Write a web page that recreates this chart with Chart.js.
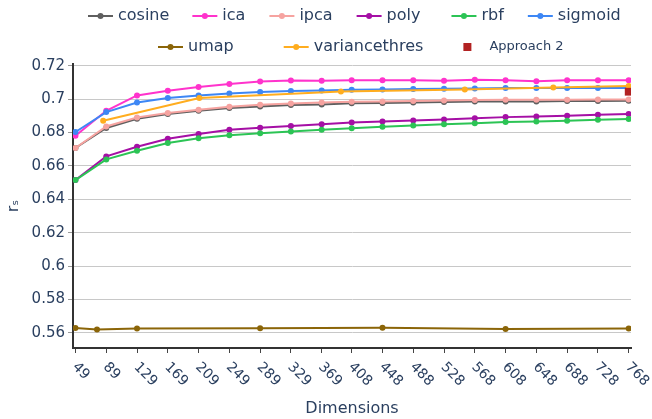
<!DOCTYPE html>
<html>
<head>
<meta charset="utf-8">
<script src="https://cdn.jsdelivr.net/npm/chart.js@4.4.1/dist/chart.umd.min.js"></script>
<style>
    body { margin: 0; background: #ffffff; }
    #wrap { width: 652px; height: 419px; }
</style>
</head>
<body>
<div id="wrap"><canvas id="chart" width="652" height="419"></canvas></div>
<script>
const dims = [49, 89, 129, 169, 209, 249, 289, 329, 369, 408, 448, 488, 528, 568, 608, 648, 688, 728, 768];

const cosine = [0.6707, 0.6827, 0.6882, 0.6910, 0.6930, 0.6946, 0.6956, 0.6964, 0.6968, 0.6975, 0.6976, 0.6980, 0.6982, 0.6986, 0.6986, 0.6986, 0.6988, 0.6988, 0.6990];
const ica = [0.6781, 0.6930, 0.7022, 0.7050, 0.7073, 0.7090, 0.7105, 0.7111, 0.7109, 0.7113, 0.7113, 0.7113, 0.7109, 0.7115, 0.7112, 0.7106, 0.7112, 0.7112, 0.7113];
const ipca = [0.6707, 0.6836, 0.6890, 0.6916, 0.6936, 0.6954, 0.6966, 0.6974, 0.6980, 0.6984, 0.6986, 0.6988, 0.6992, 0.6994, 0.6996, 0.6996, 0.6996, 0.6998, 0.6998];
const poly = [0.6516, 0.6657, 0.6715, 0.6763, 0.6791, 0.6816, 0.6828, 0.6839, 0.6849, 0.6860, 0.6866, 0.6872, 0.6878, 0.6886, 0.6892, 0.6896, 0.6900, 0.6906, 0.6910];
const rbf = [0.6515, 0.6639, 0.6691, 0.6737, 0.6765, 0.6783, 0.6795, 0.6806, 0.6816, 0.6826, 0.6834, 0.6842, 0.6850, 0.6856, 0.6863, 0.6866, 0.6871, 0.6877, 0.6881];
const sigmoid = [0.6803, 0.6922, 0.6980, 0.7006, 0.7022, 0.7033, 0.7042, 0.7048, 0.7051, 0.7056, 0.7058, 0.7060, 0.7062, 0.7064, 0.7066, 0.7066, 0.7066, 0.7066, 0.7066];

// umap and variancethres were measured at other dimensions
const umapDims = [49, 77, 129, 289, 448, 608, 768];
const umap = [0.5630, 0.5621, 0.5627, 0.5628, 0.5631, 0.5624, 0.5627];
const varDims = [85, 210, 394, 555, 670, 768];
const variancethres = [0.6870, 0.7006, 0.7045, 0.7057, 0.7069, 0.7078];

const approachDims = [768];
const approach2 = [0.7044];

const yTicks = [0.56, 0.58, 0.6, 0.62, 0.64, 0.66, 0.68, 0.7, 0.72];
const yTickLabels = ['0.56', '0.58', '0.6', '0.62', '0.64', '0.66', '0.68', '0.7', '0.72'];

const textColour = '#2a3f5f';
const fontName = '"DejaVu Sans", sans-serif';

function points(xs, ys) {
    return ys.map((y, i) => ({ x: xs[i], y: y }));
}

function lineSet(label, colour, xs, ys) {
    return {
        label: label,
        data: points(xs, ys),
        borderColor: colour,
        backgroundColor: colour,
        borderWidth: 2,
        pointRadius: 3,
        pointBorderWidth: 0,
        pointBackgroundColor: colour
    };
}

const datasets = [
    lineSet('cosine', '#5f5f5f', dims, cosine),
    lineSet('ica', '#ff33cc', dims, ica),
    lineSet('ipca', '#f6a3a0', dims, ipca),
    lineSet('poly', '#a50fa5', dims, poly),
    lineSet('rbf', '#2cc455', dims, rbf),
    lineSet('sigmoid', '#3d87f5', dims, sigmoid),
    lineSet('umap', '#8b6508', umapDims, umap),
    lineSet('variancethres', '#ffad1f', varDims, variancethres),
    {
        label: 'Approach 2',
        data: points(approachDims, approach2),
        showLine: false,
        pointStyle: 'rect',
        pointRadius: 5.5,
        pointBorderWidth: 0,
        backgroundColor: '#b22222',
        borderColor: '#b22222'
    }
];
// plotly style: later traces on top
datasets.forEach((d, i) => { d.order = -i; });

// legend layout: which datasets go in each row, where a row starts, gap after each entry
const legendRows = [[0, 1, 2, 3, 4, 5], [6, 7, 8]];
const rowStart = [88, 158];
const rowY = [16, 47];
const rowGaps = [[23, 24, 24, 31, 24, 0], [50, 40, 0]];

const legendPlugin = {
    id: 'htmlishLegend',
    afterDraw(chart) {
        const ctx = chart.ctx;
        const sets = chart.data.datasets;
        ctx.save();
        ctx.textBaseline = 'middle';
        ctx.textAlign = 'left';
        legendRows.forEach((row, r) => {
            let x = rowStart[r];
            const y = rowY[r];
            row.forEach((idx, j) => {
                const ds = sets[idx];
                const colour = ds.borderColor;
                if (ds.showLine === false) {
                    ctx.fillStyle = colour;
                    ctx.fillRect(x, y - 4, 8, 8);
                    x += 8 + 18;
                    ctx.font = '13px ' + fontName;
                } else {
                    ctx.strokeStyle = colour;
                    ctx.lineWidth = 2;
                    ctx.beginPath();
                    ctx.moveTo(x, y);
                    ctx.lineTo(x + 25, y);
                    ctx.stroke();
                    ctx.fillStyle = colour;
                    ctx.beginPath();
                    ctx.arc(x + 12.5, y, 3, 0, Math.PI * 2);
                    ctx.fill();
                    x += 25 + 5;
                    ctx.font = '16px ' + fontName;
                }
                ctx.fillStyle = textColour;
                ctx.fillText(ds.label, x, y);
                x += ctx.measureText(ds.label).width + rowGaps[r][j];
            });
        });
        ctx.restore();
    }
};

const xLabels = {
    id: 'xLabels',
    afterDraw(chart) {
        const scale = chart.scales.x;
        const ctx = chart.ctx;
        ctx.save();
        ctx.font = '14px ' + fontName;
        ctx.fillStyle = textColour;
        ctx.textAlign = 'left';
        ctx.textBaseline = 'middle';
        dims.forEach(d => {
            const x = scale.getPixelForValue(d);
            ctx.save();
            ctx.translate(x - 1, scale.top + 17);
            ctx.rotate(Math.PI / 4);
            ctx.fillText(String(d), 0, 0);
            ctx.restore();
        });
        ctx.restore();
    }
};

new Chart(document.getElementById('chart'), {
    type: 'line',
    data: { datasets: datasets },
    plugins: [xLabels, legendPlugin],
    options: {
        responsive: false,
        animation: false,
        layout: { padding: { top: 64, left: 0, right: 21, bottom: 0 } },
        plugins: {
            tooltip: { enabled: false },
            legend: { display: false }
        },
        scales: {
            x: {
                type: 'linear',
                min: 45.8,
                max: 771,
                afterBuildTicks(scale) {
                    scale.ticks = dims.map(v => ({ value: v }));
                },
                afterFit(scale) {
                    scale.height = 71;
                },
                border: { display: true, color: '#333333', width: 2 },
                grid: { drawOnChartArea: false, drawTicks: true, tickLength: 5, tickColor: '#444444' },
                ticks: { display: false },
                title: {
                    display: true,
                    text: 'Dimensions',
                    color: textColour,
                    font: { family: fontName, size: 16 },
                    padding: { top: 0, bottom: 1 }
                }
            },
            y: {
                min: 0.551,
                max: 0.721,
                afterBuildTicks(scale) {
                    scale.ticks = yTicks.map(v => ({ value: v }));
                },
                afterFit(scale) {
                    scale.width = 73;
                },
                border: { display: true, color: '#333333', width: 2 },
                grid: { color: '#c8c8c8', lineWidth: 1, drawTicks: true, tickLength: 5, tickColor: '#999999' },
                ticks: {
                    color: textColour,
                    font: { family: fontName, size: 15 },
                    padding: 3,
                    callback: (value, index) => yTickLabels[index]
                },
                title: {
                    display: true,
                    text: 'rₛ',
                    color: textColour,
                    font: { family: fontName, size: 16 },
                    padding: { top: 4, bottom: 0 }
                }
            }
        }
    }
});
</script>
</body>
</html>
